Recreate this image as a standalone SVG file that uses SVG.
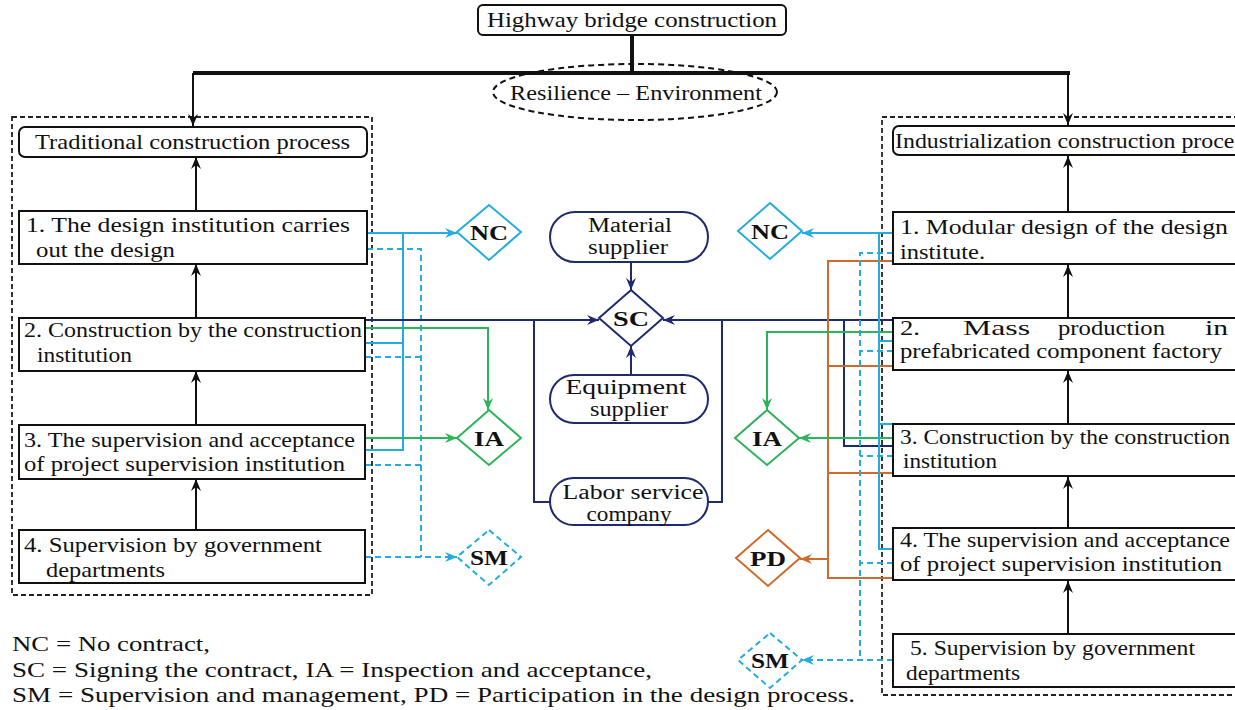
<svg xmlns="http://www.w3.org/2000/svg" width="1235" height="710" viewBox="0 0 1235 710" font-family="'Liberation Serif', 'Times New Roman', Times, serif">
<style>
text{font-family:'Liberation Serif','Times New Roman',Times,serif;font-size:22px;fill:#111}
.s{font-size:20px}
.b{font-weight:bold;text-anchor:middle}
.c{text-anchor:middle}
.box{fill:#fff;stroke:#111;stroke-width:2}
.cont{fill:none;stroke:#222;stroke-width:1.8;stroke-dasharray:5 3}
.k{fill:none;stroke:#111;stroke-width:2}
.cy{fill:none;stroke:#22ACE0;stroke-width:2}
.cyd{fill:none;stroke:#22ACE0;stroke-width:2;stroke-dasharray:6 4}
.gr{fill:none;stroke:#2BB45A;stroke-width:2}
.nv{fill:none;stroke:#1E2A6E;stroke-width:2}
.or{fill:none;stroke:#CF6A2A;stroke-width:2}
.stad{fill:#fff;stroke:#1E2A6E;stroke-width:2}
</style>
<defs>
<marker id="ak" viewBox="0 0 12 10" refX="12" refY="5" markerWidth="12" markerHeight="10" orient="auto" markerUnits="userSpaceOnUse"><path d="M0,0 L12,5 L0,10 L4,5 Z" fill="#111"/></marker>
<marker id="acy" viewBox="0 0 12 10" refX="12" refY="5" markerWidth="12" markerHeight="10" orient="auto" markerUnits="userSpaceOnUse"><path d="M0,0 L12,5 L0,10 L4,5 Z" fill="#22ACE0"/></marker>
<marker id="agr" viewBox="0 0 12 10" refX="12" refY="5" markerWidth="12" markerHeight="10" orient="auto" markerUnits="userSpaceOnUse"><path d="M0,0 L12,5 L0,10 L4,5 Z" fill="#2BB45A"/></marker>
<marker id="anv" viewBox="0 0 12 10" refX="12" refY="5" markerWidth="12" markerHeight="10" orient="auto" markerUnits="userSpaceOnUse"><path d="M0,0 L12,5 L0,10 L4,5 Z" fill="#1E2A6E"/></marker>
<marker id="aor" viewBox="0 0 12 10" refX="12" refY="5" markerWidth="12" markerHeight="10" orient="auto" markerUnits="userSpaceOnUse"><path d="M0,0 L12,5 L0,10 L4,5 Z" fill="#CF6A2A"/></marker>
</defs>
<rect width="1235" height="710" fill="#fff"/>

<!-- containers -->
<g id="left-container"><rect class="cont" x="12" y="117" width="360" height="478"/></g>
<g id="right-container"><rect class="cont" x="882" y="117" width="370" height="578"/></g>

<!-- connectors -->
<g id="connectors">
  <path d="M632,35 V73" stroke="#111" stroke-width="4" fill="none"/>
  <path d="M193,73 H1070" stroke="#111" stroke-width="4" fill="none"/>
  <path class="k" d="M193,73 V126" marker-end="url(#ak)" stroke-width="2.5"/>
  <path class="k" d="M1068,73 V125" marker-end="url(#ak)" stroke-width="2.5"/>
  <path class="k" d="M196,211 V157" marker-end="url(#ak)"/>
  <path class="k" d="M196,318 V264" marker-end="url(#ak)"/>
  <path class="k" d="M196,425 V371" marker-end="url(#ak)"/>
  <path class="k" d="M196,530 V479" marker-end="url(#ak)"/>
  <path class="k" d="M1068,212 V156" marker-end="url(#ak)"/>
  <path class="k" d="M1068,318 V265" marker-end="url(#ak)"/>
  <path class="k" d="M1068,424 V371" marker-end="url(#ak)"/>
  <path class="k" d="M1068,528 V477" marker-end="url(#ak)"/>
  <path class="k" d="M1068,634 V581" marker-end="url(#ak)"/>
  <path class="cy" d="M367,233 H457" marker-end="url(#acy)"/>
  <path class="cy" d="M403,233 V450 H365 M365,343 H403"/>
  <path class="cyd" d="M367,249 H421 V557 M365,357 H421 M365,465 H421"/>
  <path class="cyd" d="M365,557 H457" marker-end="url(#acy)"/>
  <path class="gr" d="M365,328 H488 V410" marker-end="url(#agr)"/>
  <path class="gr" d="M365,438 H457" marker-end="url(#agr)"/>
  <path class="nv" d="M365,320 H599" marker-end="url(#anv)"/>
  <path class="nv" d="M550,502 H534 V320"/>
  <path class="nv" d="M893,320 H663" marker-end="url(#anv)"/>
  <path class="nv" d="M708,502 H722 V320"/>
  <path class="nv" d="M844,320 V446 H893"/>
  <path class="nv" d="M631,262 V290" marker-end="url(#anv)"/>
  <path class="nv" d="M631,375 V346" marker-end="url(#anv)"/>
  <path class="or" d="M893,261 H828 V578 H893 M893,366 H828 M893,473 H828"/>
  <path class="or" d="M828,559 H800" marker-end="url(#aor)"/>
  <path class="gr" d="M893,332 H767 V410" marker-end="url(#agr)"/>
  <path class="gr" d="M893,438 H799" marker-end="url(#agr)"/>
  <path class="cyd" d="M893,253 H860 V660 M893,351 H860 M893,456 H860 M893,563 H860"/>
  <path class="cyd" d="M893,660 H802" marker-end="url(#acy)"/>
  <path class="cy" d="M893,233 H802" marker-end="url(#acy)"/>
  <path class="cy" d="M879,233 V549 H893 M879,341 H893 M879,424 H893"/>
</g>

<!-- top nodes -->
<g id="highway"><rect class="box" x="478" y="5" width="308" height="30" rx="5"/><text x="632" y="27" class="c" textLength="290" lengthAdjust="spacingAndGlyphs">Highway bridge construction</text></g>
<g id="resilience"><ellipse cx="635" cy="92" rx="142" ry="28" fill="none" stroke="#111" stroke-width="2" stroke-dasharray="6 4"/><text x="636" y="100" class="c" textLength="252" lengthAdjust="spacingAndGlyphs">Resilience – Environment</text></g>

<!-- left column -->
<g id="traditional"><rect class="box" x="19" y="127" width="348" height="30" rx="6"/><text x="35" y="149" textLength="315" lengthAdjust="spacingAndGlyphs">Traditional construction process</text></g>
<g id="l1"><rect class="box" x="19" y="211" width="348" height="53"/><text x="26" y="232" textLength="324" lengthAdjust="spacingAndGlyphs">1. The design institution carries</text><text x="36" y="257" textLength="139" lengthAdjust="spacingAndGlyphs">out the design</text></g>
<g id="l2"><rect class="box" x="19" y="318" width="346" height="53"/><text x="24" y="337" textLength="338" lengthAdjust="spacingAndGlyphs">2. Construction by the construction</text><text x="37" y="362" textLength="95" lengthAdjust="spacingAndGlyphs">institution</text></g>
<g id="l3"><rect class="box" x="19" y="425" width="346" height="54"/><text x="24" y="447" textLength="331" lengthAdjust="spacingAndGlyphs">3. The supervision and acceptance</text><text x="24" y="471" textLength="321" lengthAdjust="spacingAndGlyphs">of project supervision institution</text></g>
<g id="l4"><rect class="box" x="19" y="530" width="346" height="53"/><text x="24" y="552" textLength="298" lengthAdjust="spacingAndGlyphs">4. Supervision by government</text><text x="46" y="577" textLength="119" lengthAdjust="spacingAndGlyphs">departments</text></g>

<!-- right column -->
<g id="industrial"><rect class="box" x="893" y="126" width="360" height="29" rx="6"/><text x="895" y="148" textLength="358" lengthAdjust="spacingAndGlyphs">Industrialization construction process</text></g>
<g id="r1"><rect class="box" x="893" y="212" width="360" height="52"/><text x="900" y="234" textLength="328" lengthAdjust="spacingAndGlyphs">1. Modular design of the design</text><text x="900" y="259" textLength="85" lengthAdjust="spacingAndGlyphs">institute.</text></g>
<g id="r2"><rect class="box" x="893" y="318" width="360" height="52"/><text x="900" y="335" textLength="20" lengthAdjust="spacingAndGlyphs">2.</text><text x="963" y="335" textLength="67" lengthAdjust="spacingAndGlyphs">Mass</text><text x="1058" y="335" textLength="107" lengthAdjust="spacingAndGlyphs">production</text><text x="1205" y="335" textLength="23" lengthAdjust="spacingAndGlyphs">in</text><text x="900" y="358" textLength="322" lengthAdjust="spacingAndGlyphs">prefabricated component factory</text></g>
<g id="r3"><rect class="box" x="893" y="424" width="360" height="52"/><text x="900" y="444" textLength="330" lengthAdjust="spacingAndGlyphs">3. Construction by the construction</text><text x="903" y="468" textLength="94" lengthAdjust="spacingAndGlyphs">institution</text></g>
<g id="r4"><rect class="box" x="893" y="528" width="360" height="52"/><text x="900" y="547" textLength="330" lengthAdjust="spacingAndGlyphs">4. The supervision and acceptance</text><text x="900" y="571" textLength="322" lengthAdjust="spacingAndGlyphs">of project supervision institution</text></g>
<g id="r5"><rect class="box" x="893" y="634" width="360" height="53"/><text x="910" y="655" textLength="285" lengthAdjust="spacingAndGlyphs">5. Supervision by government</text><text x="906" y="680" textLength="114" lengthAdjust="spacingAndGlyphs">departments</text></g>

<!-- center -->
<g id="material"><rect class="stad" x="550" y="212" width="158" height="50" rx="25"/><text x="630" y="232" class="c s" textLength="84" lengthAdjust="spacingAndGlyphs">Material</text><text x="628" y="254" class="c s" textLength="80" lengthAdjust="spacingAndGlyphs">supplier</text></g>
<g id="sc"><path d="M631,290 L663,318 L631,346 L599,318 Z" fill="#fff" stroke="#1E2A6E" stroke-width="2"/><text x="631" y="326" class="b" textLength="36" lengthAdjust="spacingAndGlyphs">SC</text></g>
<g id="equipment"><rect class="stad" x="550" y="375" width="158" height="48" rx="24"/><text x="626" y="394" class="c s" textLength="121" lengthAdjust="spacingAndGlyphs">Equipment</text><text x="629" y="416" class="c s" textLength="78" lengthAdjust="spacingAndGlyphs">supplier</text></g>
<g id="labor"><rect class="stad" x="550" y="478" width="158" height="47" rx="23.5"/><text x="633" y="499" class="c s" textLength="141" lengthAdjust="spacingAndGlyphs">Labor service</text><text x="629" y="521" class="c s" textLength="85" lengthAdjust="spacingAndGlyphs">company</text></g>

<!-- left diamonds -->
<g id="nc-l"><path d="M489,205 L521,232 L489,260 L457,232 Z" fill="#fff" stroke="#22ACE0" stroke-width="2"/><text x="489" y="240" class="b" textLength="38" lengthAdjust="spacingAndGlyphs">NC</text></g>
<g id="ia-l"><path d="M489,410 L521,438 L489,465 L457,438 Z" fill="#fff" stroke="#2BB45A" stroke-width="2"/><text x="489" y="446" class="b" textLength="30" lengthAdjust="spacingAndGlyphs">IA</text></g>
<g id="sm-l"><path d="M489,530 L521,557 L489,585 L457,557 Z" fill="#fff" stroke="#22ACE0" stroke-width="2" stroke-dasharray="6 4"/><text x="489" y="565" class="b" textLength="38" lengthAdjust="spacingAndGlyphs">SM</text></g>

<!-- right diamonds -->
<g id="nc-r"><path d="M770,203 L802,231 L770,259 L738,231 Z" fill="#fff" stroke="#22ACE0" stroke-width="2"/><text x="770" y="239" class="b" textLength="38" lengthAdjust="spacingAndGlyphs">NC</text></g>
<g id="ia-r"><path d="M767,410 L799,438 L767,465 L735,438 Z" fill="#fff" stroke="#2BB45A" stroke-width="2"/><text x="767" y="446" class="b" textLength="30" lengthAdjust="spacingAndGlyphs">IA</text></g>
<g id="pd-r"><path d="M768,530 L800,558 L768,586 L736,558 Z" fill="#fff" stroke="#CF6A2A" stroke-width="2"/><text x="768" y="566" class="b" textLength="36" lengthAdjust="spacingAndGlyphs">PD</text></g>
<g id="sm-r"><path d="M770,633 L802,660 L770,688 L738,660 Z" fill="#fff" stroke="#22ACE0" stroke-width="2" stroke-dasharray="6 4"/><text x="770" y="668" class="b" textLength="38" lengthAdjust="spacingAndGlyphs">SM</text></g>

<!-- legend -->
<g id="legend">
<text x="12" y="651" textLength="198" lengthAdjust="spacingAndGlyphs">NC = No contract,</text>
<text x="12" y="677" textLength="640" lengthAdjust="spacingAndGlyphs">SC = Signing the contract, IA = Inspection and acceptance,</text>
<text x="12" y="702" textLength="843" lengthAdjust="spacingAndGlyphs">SM = Supervision and management, PD = Participation in the design process.</text>
</g>
</svg>
